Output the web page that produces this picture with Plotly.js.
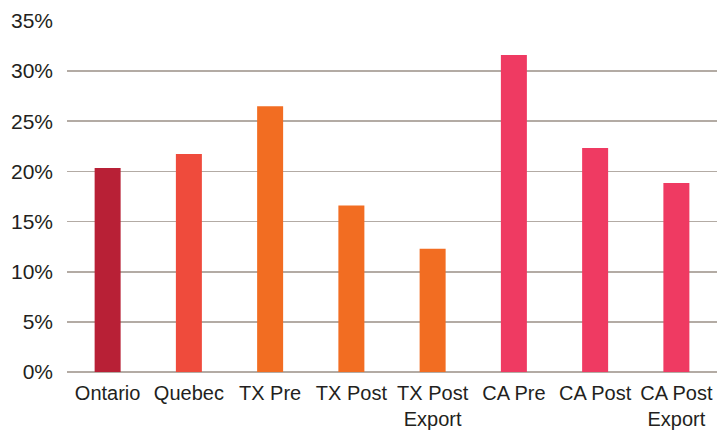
<!DOCTYPE html>
<html>
<head>
<meta charset="utf-8">
<script src="https://cdn.plot.ly/plotly-3.0.1.min.js"></script>
<style>html,body{margin:0;padding:0;background:#fff;}#chart{width:728px;height:432px;}</style>
</head>
<body>
<div id="chart"></div>
<script>
const categories = ["Ontario", "Quebec", "TX Pre", "TX Post", "TX Post<br>Export", "CA Pre", "CA Post", "CA Post<br>Export"];
const values = [0.2035, 0.2175, 0.265, 0.166, 0.1228, 0.316, 0.2234, 0.1885];
const barColors = ["#B82036", "#EF4B3C", "#F26D22", "#F26D22", "#F26D22", "#EF3A62", "#EF3A62", "#EF3A62"];
const tickVals = [0, 0.05, 0.10, 0.15, 0.20, 0.25, 0.30, 0.35];
const tickText = ["0%", "5%", "10%", "15%", "20%", "25%", "30%", "35%"];

Plotly.newPlot("chart", [{
  type: "bar",
  x: categories,
  y: values,
  marker: {color: barColors},
  width: 0.32,
  hoverinfo: "skip"
}], {
  width: 728, height: 432,
  margin: {l: 67, r: 11, t: 21, b: 60},
  paper_bgcolor: "#fff", plot_bgcolor: "#fff",
  font: {family: "Liberation Sans, Arial, sans-serif", size: 21, color: "#231F20"},
  showlegend: false,
  xaxis: {
    showgrid: false, zeroline: false,
    showline: false,
    ticks: "", tickfont: {size: 20, color: "#231F20"},
    tickangle: 0, automargin: false,
    ticklabelstandoff: 7
  },
  yaxis: {
    range: [0, 0.35],
    tickvals: tickVals, ticktext: tickText,
    showgrid: true, gridcolor: "#B3ABA4", gridwidth: 1.6,
    zeroline: true, zerolinecolor: "#B3ABA4", zerolinewidth: 1.6,
    showline: false, ticks: "", ticklen: 0,
    tickfont: {size: 21, color: "#231F20"},
    automargin: false,
    ticklabelstandoff: 13
  }
}, {displayModeBar: false, staticPlot: true});
</script>
</body>
</html>
